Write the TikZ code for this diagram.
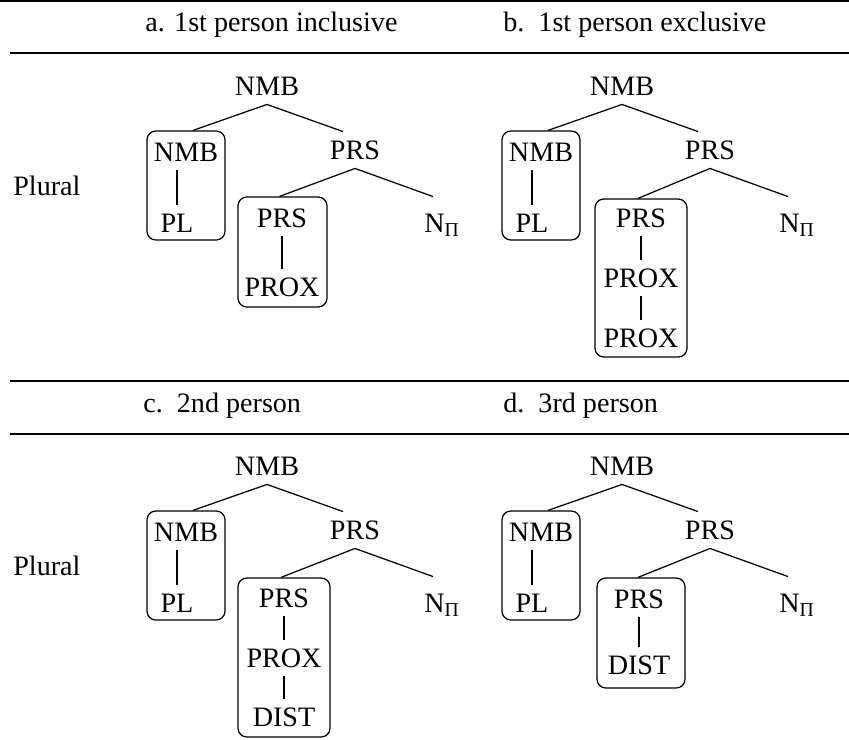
\documentclass[tikz,border=0pt]{standalone}
\usepackage{fontspec}
\setmainfont{Liberation Serif}
\usepackage{tikz}
\usetikzlibrary{
    positioning,
    calc
}

\tikzset{
    kat/.style={inner sep=5pt, text height=10.6pt, text depth=0pt, font=\fontsize{16}{19}\selectfont},
    kopf/.style={inner sep=0pt, anchor=base west, font=\fontsize{16}{19}\selectfont},
    kasten/.style={draw, rounded corners=5pt, line width=0.7pt},
    ast/.style={line width=0.7pt},
    regel/.style={line width=1.1pt}
}

% gemeinsamer Teil: NMB oben, NMB-PL links, PRS und N_Pi rechts
\newcommand{\grundbaum}[1]{%
    \node[kat] (#1-top) at (267,86) {NMB};
    \node[kasten, minimum width=1.56cm, minimum height=2.18cm] (#1-lbox) at (186,185.5) {};
    \node[kat] (#1-nmb) at (186,152) {NMB};
    \node[kat] (#1-pl) at (177,223) {PL};
    \node[kat] (#1-prs) at (355,150) {PRS};
    \node[kat] (#1-npi) at (442,223) {N\textsubscript{Π}};
    \draw[ast] (#1-pl.north) -- (#1-pl.north |- #1-nmb.south);
    \draw[ast] ($(#1-lbox.north)+(7,0)$) -- (#1-top.south) -- ($(#1-prs.north)+(-12,0)$);
    \draw[ast] ($(#1-npi.north)+(-9,-8)$) -- (#1-prs.south) -- ($(#1-rbox.north)+(-3,0)$);
}

\begin{document}
\begin{tikzpicture}[x=0.02cm, y=-0.02cm]
    \useasboundingbox (0,0) rectangle (849,740);
    % Linien und Kopfzeilen
    \draw[regel] (0,1) -- (849,1);
    \draw[regel] (10,53) -- (849,53);
    \draw[regel] (10,381) -- (849,381);
    \draw[regel] (10,434) -- (849,434);
    \node[kopf] (kopf-a) at (145,32) {a. 1st person inclusive};
    \node[kopf] (kopf-b) at (503,32) {b.\ \ 1st person exclusive};
    \node[kopf] (kopf-c) at (143,412) {c.\ \ 2nd person};
    \node[kopf] (kopf-d) at (503,412) {d.\ \ 3rd person};
    \node[kopf] (plural-1) at (13,195) {Plural};
    \node[kopf] (plural-2) at (13,575) {Plural};

    % a. inklusiv
    \begin{scope}
        \node[kasten, minimum width=1.78cm, minimum height=2.2cm] (a-rbox) at (282.5,252) {};
        \node[kat] (a-prs2) at (282,218) {PRS};
        \node[kat] (a-prox) at (282,287) {PROX};
        \draw[ast] (a-prs2) -- (a-prox);
        \grundbaum{a}
    \end{scope}

    % b. exklusiv
    \begin{scope}[shift={(355,0)}]
        \node[kasten, minimum width=1.84cm, minimum height=3.16cm] (b-rbox) at (286,278) {};
        \node[kat] (b-prs2) at (286,218) {PRS};
        \node[kat] (b-prox) at (286,278) {PROX};
        \node[kat] (b-prox2) at (286,338) {PROX};
        \draw[ast] (b-prs2) -- (b-prox) -- (b-prox2);
        \grundbaum{b}
    \end{scope}

    % c. 2. Person
    \begin{scope}[shift={(0,380)}]
        \node[kasten, minimum width=1.84cm, minimum height=3.18cm] (c-rbox) at (284,277.5) {};
        \node[kat] (c-prs2) at (284,218) {PRS};
        \node[kat] (c-prox) at (284,278) {PROX};
        \node[kat] (c-dist) at (284,337) {DIST};
        \draw[ast] (c-prs2) -- (c-prox) -- (c-dist);
        \grundbaum{c}
    \end{scope}

    % d. 3. Person
    \begin{scope}[shift={(355,380)}]
        \node[kasten, minimum width=1.76cm, minimum height=2.2cm] (d-rbox) at (286,253) {};
        \node[kat] (d-prs2) at (284,219) {PRS};
        \node[kat] (d-dist) at (284,285) {DIST};
        \draw[ast] (d-prs2) -- (d-dist);
        \grundbaum{d}
    \end{scope}
\end{tikzpicture}
\end{document}
